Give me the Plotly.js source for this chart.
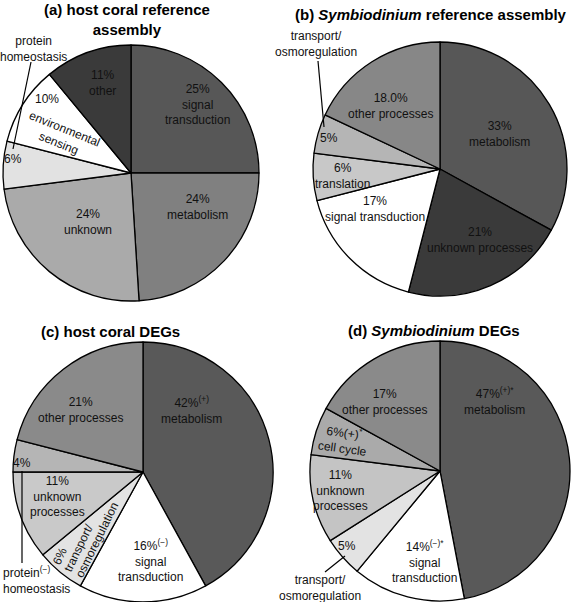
<!DOCTYPE html>
<html>
<head>
<meta charset="utf-8">
<script src="https://cdn.plot.ly/plotly-3.0.1.min.js"></script>
<style>html,body{margin:0;padding:0;background:#fff;}#chart{width:574px;height:602px;}</style>
</head>
<body>
<div id="chart"></div>
<script>
// ---------- data ----------
const catsA = ['signal transduction','metabolism','unknown','protein homeostasis','environmental sensing','other'];
const valsA = [25, 24, 24, 6, 10, 11];
const catsB = ['metabolism','unknown processes','signal transduction','translation','transport/osmoregulation','other processes'];
const valsB = [33, 21, 17, 6, 5, 18];
const catsC = ['metabolism','signal transduction','transport/osmoregulation','unknown processes','protein homeostasis','other processes'];
const valsC = [42, 16, 6, 11, 4, 21];
const catsD = ['metabolism','signal transduction','transport/osmoregulation','unknown processes','cell cycle','other processes'];
const valsD = [47, 14, 5, 11, 6, 17];

const titleA = '(a) host coral reference<br>assembly';
const titleB = '(b) <i>Symbiodinium</i> reference assembly';
const titleC = '(c) host coral DEGs';
const titleD = '(d) <i>Symbiodinium</i> DEGs';

// ---------- styling ----------
const W = 574, H = 602;
const FONT = 'Arial, "Liberation Sans", Helvetica, sans-serif';
const colA = ['#575757','#808080','#aaaaaa','#e2e2e2','#ffffff','#3a3a3a'];
const colB = ['#575757','#3a3a3a','#ffffff','#c8c8c8','#b5b5b5','#878787'];
const colC = ['#595959','#ffffff','#e3e3e3','#c9c9c9','#b5b5b5','#8a8a8a'];
const colD = ['#595959','#ffffff','#e3e3e3','#c4c4c4','#aaaaaa','#8a8a8a'];

function dom(cx, cy, r){
  return {x:[(cx-r)/W,(cx+r)/W], y:[1-(cy+r)/H, 1-(cy-r)/H]};
}
function pie(vals, cats, cols, d){
  return {type:'pie', values:vals, labels:cats, sort:false, direction:'clockwise', rotation:0,
    textinfo:'none', hoverinfo:'label+percent', showlegend:false,
    marker:{colors:cols, line:{color:'#000', width:1.3}}, domain:d};
}
const data = [
  pie(valsA, catsA, colA, dom(131,173,128)),
  pie(valsB, catsB, colB, dom(440,169,127)),
  pie(valsC, catsC, colC, dom(143,472,130)),
  pie(valsD, catsD, colD, dom(440,471,130))
];

function pct(v){ return v + '%'; }

function ann(text, x, y, opt){
  const o = Object.assign({text:text, x:x/W, y:1-y/H, xref:'paper', yref:'paper',
    showarrow:false, xanchor:'center', yanchor:'middle',
    font:{family:FONT, size:12, color:'#111'}}, opt||{});
  return o;
}
function ttl(text, x, y){
  return ann(text, x, y, {font:{family:FONT, size:15, color:'#000', weight:'bold'}});
}
function seg(x0,y0,x1,y1){
  return {type:'line', xref:'paper', yref:'paper', x0:x0/W, y0:1-y0/H, x1:x1/W, y1:1-y1/H,
    line:{color:'#000', width:1.2}};
}

const annotations = [
  ttl('<b>'+titleA+'</b>', 127, 20),
  ttl('<b>'+titleB+'</b>', 431, 14),
  ttl('<b>'+titleC+'</b>', 110, 331),
  ttl('<b>'+titleD+'</b>', 434, 330),
  // (a)
  ann(pct(valsA[0])+'<br>signal<br>transduction', 197, 104),
  ann(pct(valsA[1])+'<br>metabolism', 197, 207),
  ann(pct(valsA[2])+'<br>unknown', 88, 222),
  ann(pct(valsA[5])+'<br>other', 102, 83),
  ann(pct(valsA[4]), 47, 99),
  ann('environmental<br>sensing', 61, 136, {textangle:22}),
  ann(pct(valsA[3]), 13, 159),
  ann('protein<br>homeostasis', 33, 49),
  // (b)
  ann(pct(valsB[0])+'<br>metabolism', 500, 134),
  ann(pct(valsB[1])+'<br>unknown processes', 480, 240),
  ann(pct(valsB[2])+'<br>signal transduction', 375, 209),
  ann(pct(valsB[3])+'<br>translation', 342, 176),
  ann(pct(valsB[4]), 329, 138),
  ann(valsB[5].toFixed(1)+'%<br>other processes', 390, 106),
  ann('transport/<br>osmoregulation', 316, 44),
  // (c)
  ann(pct(valsC[0])+'<sup>(+)</sup><br>metabolism', 191, 410),
  ann(pct(valsC[5])+'<br>other processes', 80, 410),
  ann(pct(valsC[4]), 22, 463),
  ann(pct(valsC[3])+'<br>unknown<br>processes', 57, 496),
  ann(pct(valsC[2]), 60, 556, {textangle:-64}),
  ann('transport/', 78.5, 548, {textangle:-64}),
  ann('osmoregulation', 97, 540, {textangle:-64}),
  ann(pct(valsC[1])+'<sup>(\u2212)</sup><br>signal<br>transduction', 150, 560),
  ann('protein<sup>(\u2212)</sup><br>homeostasis', 1, 580, {xanchor:'left', align:'left'}),
  // (d)
  ann(pct(valsD[0])+'<sup>(+)*</sup><br>metabolism', 494, 401),
  ann(pct(valsD[5])+'<br>other processes', 384, 402),
  ann(pct(valsD[4])+'(+)<sup>*</sup><br>cell cycle', 343, 440, {textangle:8}),
  ann(pct(valsD[3])+'<br>unknown<br>processes', 340, 490),
  ann(pct(valsD[2]), 347, 546),
  ann(pct(valsD[1])+'<sup>(\u2212)*</sup><br>signal<br>transduction', 424, 561),
  ann('transport/<br>osmoregulation', 320, 588)
];

const shapes = [
  seg(31,62,13,149),
  seg(318,61,324,127),
  seg(22,471,22,563),
  seg(325,572,345,556)
];

const layout = {
  width:W, height:H, margin:{l:0,r:0,t:0,b:0}, paper_bgcolor:'#fff',
  showlegend:false, annotations:annotations, shapes:shapes,
  font:{family:FONT, size:12, color:'#111'}
};
Plotly.newPlot('chart', data, layout, {displayModeBar:false, staticPlot:true});
</script>
</body>
</html>
